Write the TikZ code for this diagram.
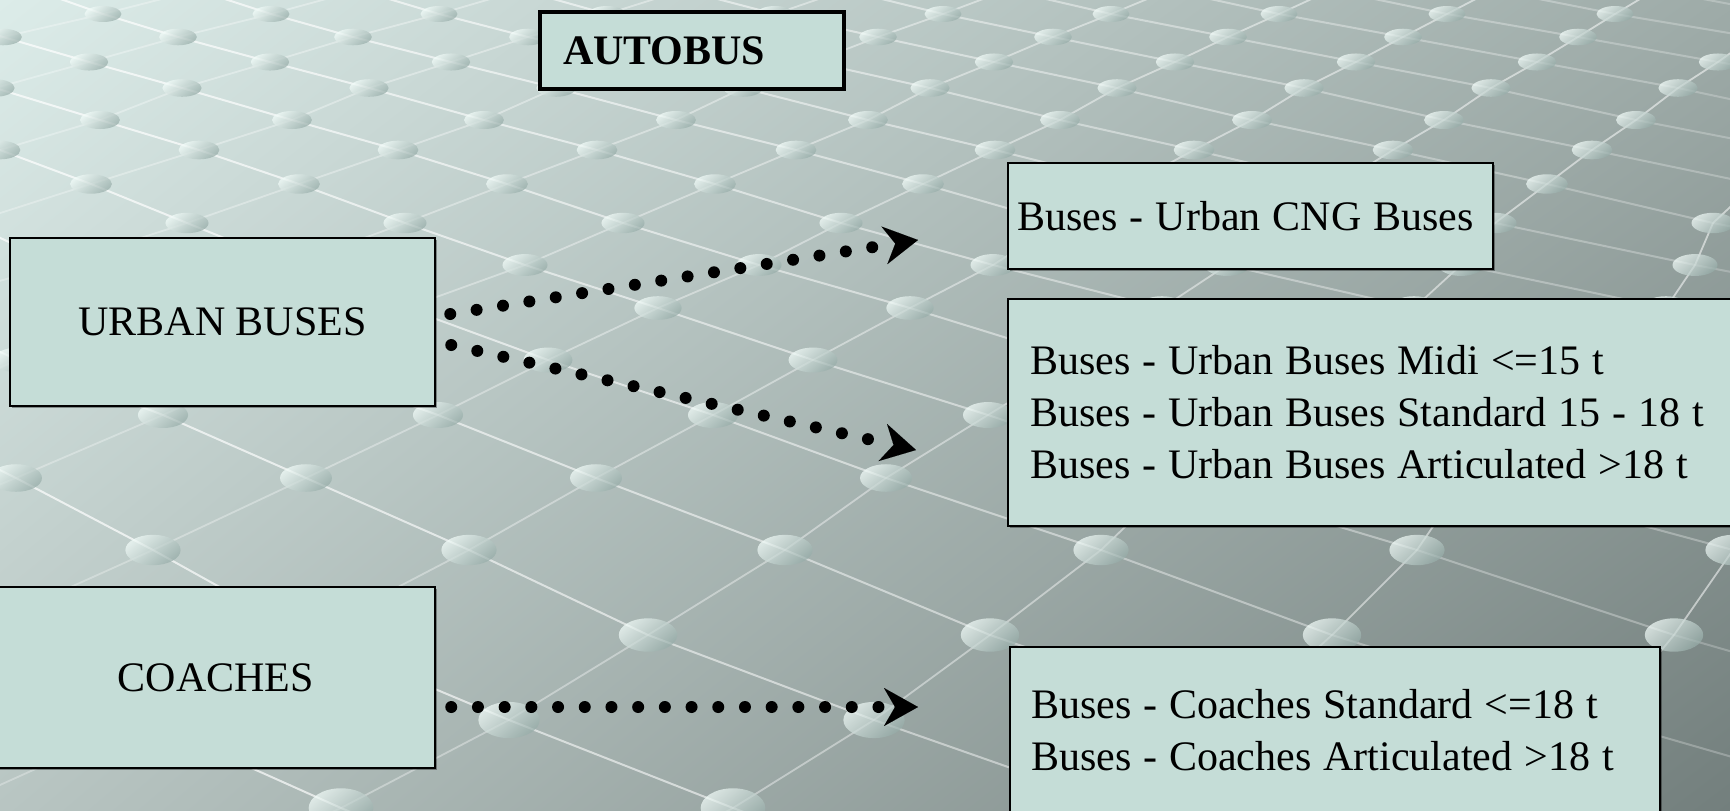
\documentclass[tikz,border=0pt]{standalone}
\usepackage{fontspec}
\setmainfont{Liberation Serif}
\usetikzlibrary{arrows.meta,shadows}
\definecolor{boxfill}{RGB}{197,221,215}
\definecolor{dotlight}{RGB}{242,252,249}
\definecolor{dotdark}{RGB}{150,172,168}
\pgfdeclarefunctionalshading{bgshade}{\pgfpoint{-50bp}{-50bp}}{\pgfpoint{50bp}{50bp}}{}{
 25 add 50 div 1 exch sub
 exch 25 add 50 div
 2 copy mul -0.0275 mul
 2 index -0.1412 mul add
 1 index -0.2431 mul add
 0.8627 add
 3 1 roll
 2 copy mul -0.0196 mul
 2 index -0.1529 mul add
 1 index -0.2549 mul add
 0.9255 add
 3 1 roll
 2 copy mul -0.0157 mul
 2 index -0.1529 mul add
 1 index -0.2549 mul add
 0.9137 add
 3 1 roll pop pop
}
\def\Yarr{{-10,14,37,62,88,120,150,184,223,265,308,360,415,478,550,635,720,808,900}}
\def\Sarr{{162,168,175,181,187,192,199,208,218,234,252,265,275,290,316,342,365,392,420}}
\def\Carr{{-775,-737,-697,-635,-566,-476,-398,-325,-249,-177,-98,18,163,306,469,648,874,1125,1400}}
\newcommand{\tightsp}{\spaceskip=0.285em\relax\xspaceskip=0.285em\relax}
\tikzset{
  aline/.style={white, line width=1pt},
  bline/.style={white, line width=0.9pt},
  dotshade/.style={top color=dotlight, bottom color=dotdark, shading angle=40, opacity=0.72},
  box/.style={draw=black, line width=1.25pt, fill=boxfill, inner ysep=0pt,
    font=\fontsize{21}{26}\selectfont,
    drop shadow={shadow xshift=1pt, shadow yshift=-1pt, fill=black, opacity=0.35}},
  dotarrow/.style={line width=6pt, line cap=round, dash pattern=on 0pt off 13.35pt,
    -{Stealth[length=17pt,width=19pt,inset=5.5pt,line width=0.01pt]}}
}
\begin{document}
\begin{tikzpicture}[x=0.5pt,y=-0.5pt]
\useasboundingbox (0,0) rectangle (1730,810);
\clip (0,0) rectangle (1730,810);
\shade[shading=bgshade] (0,0) rectangle (1730,810);
% lattice lines
\foreach \k in {0,...,18}{
  \pgfmathsetmacro\rowY{\Yarr[\k]}
  \pgfmathsetmacro\rowS{\Sarr[\k]}
  \pgfmathsetmacro\rowC{\Carr[\k]}
  \pgfmathtruncatemacro\amin{floor((-150-(\rowC))/\rowS)}
  \pgfmathtruncatemacro\amax{ceil((1880-(\rowC))/\rowS)}
  \pgfmathtruncatemacro\kn{min(\k+1,18)}
  \pgfmathtruncatemacro\kp{max(\k-1,0)}
  \pgfmathsetmacro\nxtY{\Yarr[\kn]}
  \pgfmathsetmacro\nxtS{\Sarr[\kn]}
  \pgfmathsetmacro\nxtC{\Carr[\kn]}
  \pgfmathsetmacro\prvY{\Yarr[\kp]}
  \pgfmathsetmacro\prvS{\Sarr[\kp]}
  \pgfmathsetmacro\prvC{\Carr[\kp]}
  \foreach \a in {\amin,...,\amax}{
    \pgfmathsetmacro\ptX{\rowC+\rowS*(\a)}
    \pgfmathsetmacro\aop{max(0.15,min(0.7,0.72-0.5*(\ptX)/1730))}
    \pgfmathsetmacro\bop{max(0.2,min(0.6,0.3+0.25*(\ptX)/1730))}
    \ifnum\k<18
      \pgfmathsetmacro\qtX{\nxtC+\nxtS*(\a)}
      \draw[aline, opacity=\aop] (\ptX,\rowY) -- (\qtX,\nxtY);
    \fi
    \ifnum\k>0
      \pgfmathsetmacro\qtX{\prvC+\prvS*(\a+1)}
      \draw[bline, opacity=\bop] (\ptX,\rowY) -- (\qtX,\prvY);
    \fi
  }
}
% lattice dots
\foreach \k in {0,...,18}{
  \pgfmathsetmacro\rowY{\Yarr[\k]}
  \pgfmathsetmacro\rowS{\Sarr[\k]}
  \pgfmathsetmacro\rowC{\Carr[\k]}
  \pgfmathtruncatemacro\amin{floor((-150-(\rowC))/\rowS)}
  \pgfmathtruncatemacro\amax{ceil((1880-(\rowC))/\rowS)}
  \pgfmathsetmacro\dRx{(8+0.062*\rowS)*0.5}
  \pgfmathsetmacro\dRy{\dRx*(0.3+0.0008*\rowS)}
  \foreach \a in {\amin,...,\amax}{
    \pgfmathsetmacro\ptX{\rowC+\rowS*(\a)}
    \shade[dotshade] (\ptX,\rowY) ellipse [x radius=\dRx pt, y radius=\dRy pt];
  }
}
% boxes
\node[box, line width=2pt, minimum width=152pt, minimum height=38.5pt, text width=129pt,
  inner xsep=11.5pt, align=left, font=\fontsize{21}{26}\selectfont\bfseries] (autobus) at (692,50.5) {AUTOBUS};
\node[box, minimum width=212.5pt, minimum height=84pt] (ub) at (222.5,322) {URBAN BUSES};
\node[box, minimum width=219pt, minimum height=90.5pt] (co) at (216,677.5) {COACHES};
\node[box, minimum width=242.5pt, minimum height=53pt, text width=233pt, inner xsep=4.75pt,
  align=left] (cng) at (1250.5,216) {\tightsp Buses - Urban CNG Buses};
\node[box, minimum width=376pt, minimum height=113.5pt, text width=354pt, inner xsep=11pt,
  align=left] (ul) at (1384,412.5) {\tightsp Buses - Urban Buses Midi <=15 t\\Buses - Urban Buses Standard 15 - 18 t\\Buses - Urban Buses Articulated >18 t};
\node[box, minimum width=325pt, minimum height=83pt, text width=304pt, inner xsep=10.5pt,
  align=left] (cl) at (1335,730) {\tightsp Buses - Coaches Standard <=18 t\\Buses - Coaches Articulated >18 t};
% arrows
\coordinate (t1) at (918,240);
\coordinate (t2) at (916,450);
\coordinate (t3) at (918,707);
\draw[dotarrow] ([shift={(14,-8)}]ub.east) -- (t1);
\draw[dotarrow] ([shift={(15,23)}]ub.east) -- (t2);
\draw[dotarrow] ([shift={(15,29.5)}]co.east) -- (t3);
\end{tikzpicture}
\end{document}
